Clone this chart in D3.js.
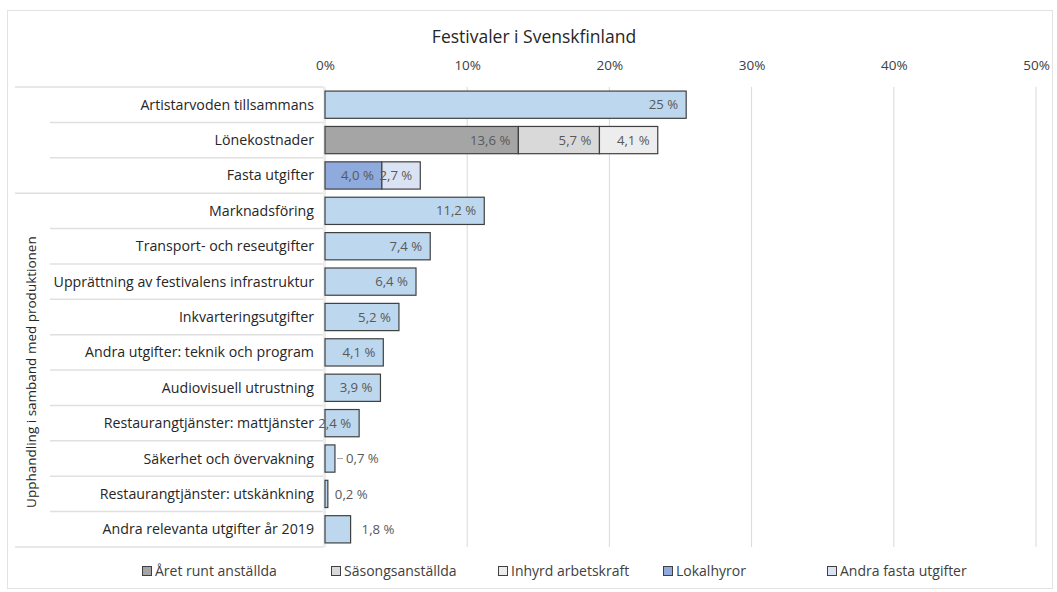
<!DOCTYPE html>
<html>
<head>
<meta charset="utf-8">
<script src="https://cdn.jsdelivr.net/npm/d3@7"></script>
<style>
  body { margin: 0; background: #fff; }
  svg { font-family: "Open Sans", sans-serif; }
</style>
</head>
<body>
<div id="chart"></div>
<script>
// Categories (top to bottom)
const categories = [
  "Artistarvoden tillsammans",
  "Lönekostnader",
  "Fasta utgifter",
  "Marknadsföring",
  "Transport- och reseutgifter",
  "Upprättning av festivalens infrastruktur",
  "Inkvarteringsutgifter",
  "Andra utgifter: teknik och program",
  "Audiovisuell utrustning",
  "Restaurangtjänster: mattjänster",
  "Säkerhet och övervakning",
  "Restaurangtjänster: utskänkning",
  "Andra relevanta utgifter år 2019"
];

// Series values (percent)
const aretRunt   = [0, 13.6, 0, 0, 0, 0, 0, 0, 0, 0, 0, 0, 0];
const sasong     = [0, 5.7, 0, 0, 0, 0, 0, 0, 0, 0, 0, 0, 0];
const inhyrd     = [0, 4.1, 0, 0, 0, 0, 0, 0, 0, 0, 0, 0, 0];
const lokal      = [0, 0, 4.0, 0, 0, 0, 0, 0, 0, 0, 0, 0, 0];
const andraFasta = [0, 0, 2.7, 0, 0, 0, 0, 0, 0, 0, 0, 0, 0];
const kostnader  = [25.4, 0, 0, 11.2, 7.4, 6.4, 5.2, 4.1, 3.9, 2.4, 0.7, 0.2, 1.8];
// label shown for the first row is rounded in the source
const kostnadLabels = ["25 %", "", "", "11,2 %", "7,4 %", "6,4 %", "5,2 %", "4,1 %", "3,9 %", "2,4 %", "0,7 %", "0,2 %", "1,8 %"];

const xTicks = [0, 10, 20, 30, 40, 50];
const groupLabel = "Upphandling i samband med produktionen";
const groupStart = 3; // first row of the grouped block

const series = [
  { key: "aretRunt",   name: "Året runt anställda",  values: aretRunt,   color: "#a5a5a5", legend: true },
  { key: "sasong",     name: "Säsongsanställda",     values: sasong,     color: "#d9d9d9", legend: true },
  { key: "inhyrd",     name: "Inhyrd arbetskraft",   values: inhyrd,     color: "#ededed", legend: true },
  { key: "lokal",      name: "Lokalhyror",           values: lokal,      color: "#8faadc", legend: true },
  { key: "andraFasta", name: "Andra fasta utgifter", values: andraFasta, color: "#dae3f3", legend: true },
  { key: "kostnader",  name: "Kostnader",            values: kostnader,  color: "#bdd7ee", legend: false }
];

const width = 1057, height = 592;
const margin = { top: 87, right: 21, bottom: 45, left: 325 };

const svg = d3.select("#chart").append("svg")
  .attr("width", width)
  .attr("height", height);

// chart border
svg.append("rect")
  .attr("x", 7.5).attr("y", 10.5)
  .attr("width", width - 12).attr("height", height - 14)
  .attr("fill", "#fff")
  .attr("stroke", "#e3e3e3");

const x = d3.scaleLinear().domain([0, 50]).range([margin.left, width - margin.right]);
const y = d3.scaleBand().domain(categories)
  .range([margin.top, height - margin.bottom])
  .paddingInner(0.23).paddingOuter(0.115);

// rows as objects for stacking
const rows = categories.map((c, i) => {
  const r = { cat: c, idx: i };
  series.forEach(s => r[s.key] = s.values[i]);
  return r;
});
const stacked = d3.stack().keys(series.map(s => s.key))(rows);

// title
svg.append("text")
  .attr("x", 534).attr("y", 43)
  .attr("text-anchor", "middle")
  .attr("font-size", 17.5)
  .attr("fill", "#262626")
  .text("Festivaler i Svenskfinland");

// gridlines
svg.append("g")
  .selectAll("line")
  .data(xTicks)
  .join("line")
  .attr("x1", d => x(d)).attr("x2", d => x(d))
  .attr("y1", margin.top).attr("y2", height - margin.bottom)
  .attr("stroke", "#d9d9d9");

// top axis
const xAxis = svg.append("g")
  .attr("transform", `translate(0,${margin.top - 14})`)
  .call(d3.axisTop(x).tickValues(xTicks).tickFormat(d => d + "%").tickSize(0));
xAxis.select(".domain").remove();
xAxis.selectAll("text")
  .attr("font-family", "Open Sans, sans-serif")
  .attr("font-size", 13.5)
  .attr("fill", "#404040");

// label panel on the left
const panel = svg.append("g");
panel.append("rect")
  .attr("x", 15).attr("y", margin.top)
  .attr("width", x(0) - 1 - 15).attr("height", height - margin.bottom - margin.top)
  .attr("fill", "#fff");

const sepLines = d3.range(categories.length + 1).map(i => ({
  y: margin.top + i * (height - margin.bottom - margin.top) / categories.length,
  start: (i === 0 || i === groupStart || i === categories.length) ? 15 : 50
}));
panel.selectAll("line.sep")
  .data(sepLines)
  .join("line")
  .attr("class", "sep")
  .attr("x1", d => d.start).attr("x2", x(0) - 1)
  .attr("y1", d => d.y).attr("y2", d => d.y)
  .attr("stroke", "#e0e0e0")
  .attr("stroke-width", 1.5);
panel.append("line")
  .attr("x1", x(0) - 1.5).attr("x2", x(0) - 1.5)
  .attr("y1", margin.top).attr("y2", height - margin.bottom)
  .attr("stroke", "#f0f0f0");

// category labels
svg.append("g")
  .selectAll("text")
  .data(categories)
  .join("text")
  .attr("x", x(0) - 11)
  .attr("y", d => y(d) + y.bandwidth() / 2)
  .attr("dy", "0.35em")
  .attr("text-anchor", "end")
  .attr("font-size", 14.2)
  .attr("fill", "#262626")
  .text(d => d);

// group label
const gy0 = sepLines[groupStart].y, gy1 = sepLines[categories.length].y;
svg.append("text")
  .attr("transform", `translate(31,${(gy0 + gy1) / 2 + 2}) rotate(-90)`)
  .attr("text-anchor", "middle")
  .attr("dy", "0.35em")
  .attr("font-size", 13.5)
  .attr("fill", "#262626")
  .text(groupLabel);

// bars
const layer = svg.append("g")
  .selectAll("g")
  .data(stacked)
  .join("g")
  .attr("fill", (d, i) => series[i].color);

layer.selectAll("rect")
  .data(d => d.filter(p => p[1] - p[0] > 0))
  .join("rect")
  .attr("x", p => x(p[0]))
  .attr("y", p => y(p.data.cat))
  .attr("width", p => x(p[1]) - x(p[0]))
  .attr("height", y.bandwidth())
  .attr("stroke", "#404040")
  .attr("stroke-width", 1.2);

// data labels
const fmt = v => d3.format(".1f")(v).replace(".", ",") + " %";
const labels = [];
stacked.forEach((s, si) => {
  s.forEach((p, i) => {
    const v = p[1] - p[0];
    if (v <= 0) return;
    const text = series[si].key === "kostnader" ? kostnadLabels[i] : fmt(v);
    const inside = v >= 2;
    labels.push({
      text,
      x: inside ? x(p[1]) - 8 : x(p[1]) + (v < 0.5 ? 7 : 11),
      anchor: inside ? "end" : "start",
      y: y(p.data.cat) + y.bandwidth() / 2,
      end: x(p[1]),
      inside,
      v
    });
  });
});

// small leader line for the 0,7 % label
svg.append("g")
  .selectAll("line")
  .data(labels.filter(d => !d.inside && d.v >= 0.5 && d.v < 1))
  .join("line")
  .attr("x1", d => d.end + 2).attr("x2", d => d.x - 3)
  .attr("y1", d => d.y).attr("y2", d => d.y)
  .attr("stroke", "#a6a6a6");

svg.append("g")
  .selectAll("text")
  .data(labels)
  .join("text")
  .attr("x", d => d.x)
  .attr("y", d => d.y)
  .attr("dy", "0.35em")
  .attr("text-anchor", d => d.anchor)
  .attr("font-size", 13.2)
  .attr("fill", "#595959")
  .text(d => d.text);

// legend
const legendItems = series.filter(s => s.legend);
const legendX = [142, 331, 498, 663, 827];
const legend = svg.append("g")
  .selectAll("g")
  .data(legendItems)
  .join("g")
  .attr("transform", (d, i) => `translate(${legendX[i]},${571})`);
legend.append("rect")
  .attr("x", 0.5).attr("y", -4.5)
  .attr("width", 9).attr("height", 9)
  .attr("fill", d => d.color)
  .attr("stroke", "#404040");
legend.append("text")
  .attr("x", 13)
  .attr("y", 0)
  .attr("dy", "0.35em")
  .attr("font-size", 14)
  .attr("fill", "#404040")
  .text(d => d.name);
</script>
</body>
</html>
